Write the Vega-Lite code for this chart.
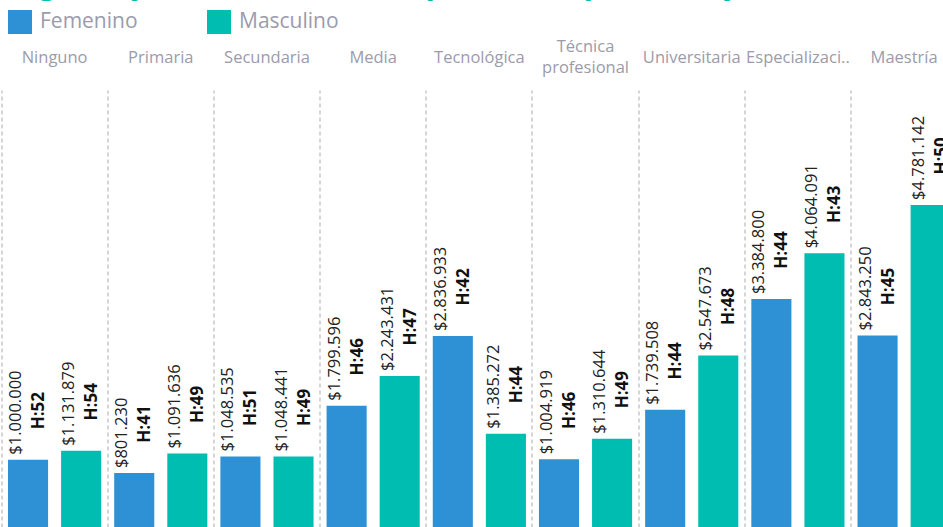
{
  "$schema": "https://vega.github.io/schema/vega-lite/v6.json",
  "autosize": {"type": "none"},
  "padding": {"left": 1.5, "top": 90, "right": 0, "bottom": 0},
  "width": 941.5,
  "height": 437,
  "title": {
    "text": "Ingreso y horas semanales promedio por sexo y nivel educativo",
    "anchor": "start",
    "frame": "group",
    "baseline": "alphabetic",
    "offset": 11,
    "dx": 6,
    "dy": 25.5,
    "fontSize": 31,
    "fontWeight": "bold",
    "color": "#00BDB1",
    "font": "Open Sans",
    "limit": 2000
  },
  "config": {
    "locale": {"number": {"decimal": ",", "thousands": ".", "grouping": [3], "currency": ["$", ""]}},
    "view": {"stroke": null},
    "font": "Open Sans"
  },
  "data": {
    "values": [
      {"nivel": "Ninguno", "sexo": "Femenino", "ingreso": 1000000, "horas": 52},
      {"nivel": "Ninguno", "sexo": "Masculino", "ingreso": 1131879, "horas": 54},
      {"nivel": "Primaria", "sexo": "Femenino", "ingreso": 801230, "horas": 41},
      {"nivel": "Primaria", "sexo": "Masculino", "ingreso": 1091636, "horas": 49},
      {"nivel": "Secundaria", "sexo": "Femenino", "ingreso": 1048535, "horas": 51},
      {"nivel": "Secundaria", "sexo": "Masculino", "ingreso": 1048441, "horas": 49},
      {"nivel": "Media", "sexo": "Femenino", "ingreso": 1799596, "horas": 46},
      {"nivel": "Media", "sexo": "Masculino", "ingreso": 2243431, "horas": 47},
      {"nivel": "Tecnológica", "sexo": "Femenino", "ingreso": 2836933, "horas": 42},
      {"nivel": "Tecnológica", "sexo": "Masculino", "ingreso": 1385272, "horas": 44},
      {"nivel": "Técnica profesional", "sexo": "Femenino", "ingreso": 1004919, "horas": 46},
      {"nivel": "Técnica profesional", "sexo": "Masculino", "ingreso": 1310644, "horas": 49},
      {"nivel": "Universitaria", "sexo": "Femenino", "ingreso": 1739508, "horas": 44},
      {"nivel": "Universitaria", "sexo": "Masculino", "ingreso": 2547673, "horas": 48},
      {"nivel": "Especialización", "sexo": "Femenino", "ingreso": 3384800, "horas": 44},
      {"nivel": "Especialización", "sexo": "Masculino", "ingreso": 4064091, "horas": 43},
      {"nivel": "Maestría", "sexo": "Femenino", "ingreso": 2843250, "horas": 45},
      {"nivel": "Maestría", "sexo": "Masculino", "ingreso": 4781142, "horas": 50}
    ]
  },
  "encoding": {
    "x": {
      "field": "nivel",
      "type": "nominal",
      "sort": null,
      "scale": {"paddingInner": 0, "paddingOuter": 0, "range": [0, 955.7]},
      "axis": {
        "orient": "top",
        "title": null,
        "domain": false,
        "ticks": false,
        "grid": true,
        "bandPosition": 0,
        "gridColor": "#c8c8c8",
        "gridDash": [4, 3],
        "gridWidth": 1.5,
        "labelAngle": 0,
        "labelFontSize": 16.5,
        "labelColor": "#9b9bab",
        "labelBaseline": "middle",
        "labelPadding": {"condition": {"test": "datum.value == 'Técnica profesional'", "value": 43.5}, "value": 33},
        "labelLineHeight": 21,
        "labelLimit": 200,
        "labelExpr": "datum.value == 'Técnica profesional' ? ['Técnica', 'profesional'] : datum.value == 'Especialización' ? 'Especializaci..' : datum.value"
      }
    },
    "xOffset": {
      "field": "sexo",
      "type": "nominal",
      "scale": {"paddingInner": 0.245, "paddingOuter": 0.1226}
    },
    "y": {
      "field": "ingreso",
      "type": "quantitative",
      "scale": {"domain": [0, 6488000], "nice": false, "zero": true},
      "axis": null
    }
  },
  "layer": [
    {
      "mark": {"type": "bar"},
      "encoding": {
        "color": {
          "field": "sexo",
          "type": "nominal",
          "scale": {"domain": ["Femenino", "Masculino"], "range": ["#2E91D6", "#00BDB1"]},
          "legend": {
            "title": null,
            "orient": "none",
            "direction": "horizontal",
            "legendX": 6.5,
            "legendY": -80,
            "symbolType": "square",
            "symbolSize": 576,
            "symbolStrokeWidth": 0,
            "labelFontSize": 21,
            "labelColor": "#9b9bab",
            "labelOffset": 8,
            "columnPadding": 69
          }
        }
      }
    },
    {
      "mark": {"type": "text", "angle": 270, "align": "left", "baseline": "middle", "dx": 5, "dy": -12, "fontSize": 16.5, "color": "#222222"},
      "encoding": {
        "text": {"field": "ingreso", "type": "quantitative", "format": "$,.0f"}
      }
    },
    {
      "mark": {"type": "text", "angle": 270, "align": "center", "baseline": "middle", "dx": 49, "dy": 11, "fontSize": 17, "fontWeight": "bold", "color": "#111111", "text": {"expr": "'H:' + datum.horas"}},
      "encoding": {}
    }
  ]
}
